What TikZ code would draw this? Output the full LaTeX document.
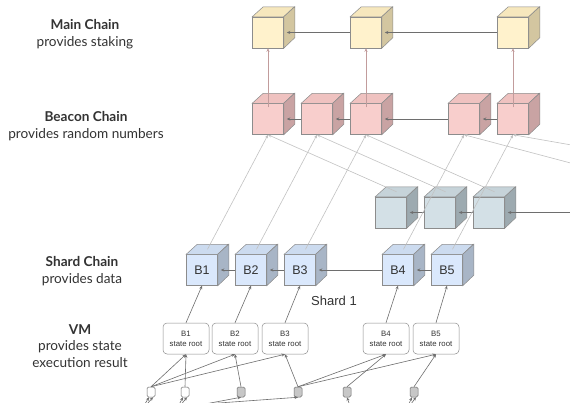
\documentclass[tikz,border=0pt]{standalone}
\usepackage{fontspec}
\setmainfont{Lato}
\newfontfamily\boxfont{Liberation Sans}
\usetikzlibrary{arrows.meta}

\definecolor{mainfront}{HTML}{FFF2CC}
\definecolor{maintop}{HTML}{F6E7BD}
\definecolor{mainside}{HTML}{D3C6A0}
\definecolor{beaconfront}{HTML}{F8CECC}
\definecolor{beacontop}{HTML}{EFC2C0}
\definecolor{beaconside}{HTML}{C9A3A3}
\definecolor{shardfront}{HTML}{DAE8FC}
\definecolor{shardtop}{HTML}{CCDBEF}
\definecolor{shardside}{HTML}{A8B5C6}
\definecolor{otherfront}{HTML}{D3E0E6}
\definecolor{othertop}{HTML}{C6D3D9}
\definecolor{otherside}{HTML}{9DAAB0}
\definecolor{edgegrey}{HTML}{8C8C8C}
\definecolor{linkgrey}{HTML}{6E6E6E}
\definecolor{crossgrey}{HTML}{C2C2C2}
\definecolor{upgrey}{HTML}{C29C9C}
\definecolor{textgrey}{HTML}{333333}

% cube: front face is the named node, top and side are drawn after it
\newcommand{\blockcube}[4]{%
  \node[cube, fill=#3front] (#1) at (#2) {#4};
  \draw[cubeedge, fill=#3top] (#1.north west) -- ++(11,-10) -- ++(31,0) -- (#1.north east) -- cycle;
  \draw[cubeedge, fill=#3side] (#1.north east) -- ++(11,-10) -- ++(0,31) -- (#1.south east) -- cycle;
}

\begin{document}
\begin{tikzpicture}[x=1pt, y=-1pt, line width=0.6pt,
    >={Stealth[length=3.5pt,width=3pt]},
    cubeedge/.style={draw=edgegrey, line width=0.5pt},
    cube/.style={cubeedge, minimum width=31pt, minimum height=31pt, inner sep=0pt,
      text=textgrey, font=\boxfont\fontsize{12.5}{14}\selectfont},
    vmbox/.style={draw=edgegrey, line width=0.5pt, rounded corners=4pt, fill=white,
      minimum width=46pt, minimum height=31pt, inner sep=0pt, align=center,
      text=textgrey, font=\boxfont\fontsize{7.8}{10}\selectfont},
    txbox/.style={draw=linkgrey, line width=0.5pt, rounded corners=1.5pt,
      minimum width=8pt, minimum height=10pt, inner sep=0pt},
    label/.style={align=center, text=textgrey, font=\fontsize{13.6}{16.5}\selectfont},
    link/.style={draw=linkgrey, ->},
    cross/.style={draw=crossgrey, ->},
    up/.style={draw=upgrey, ->}]

    \useasboundingbox (0,0) rectangle (570,402);
    \fill[white] (0,0) rectangle (570,402);
    \clip (0,0) rectangle (570,402);

    % Labels on the left
    \node[label] (lmain) at (85,34) {\textbf{Main Chain}\\provides staking};
    \node[label] (lbeacon) at (86,126) {\textbf{Beacon Chain}\\provides random numbers};
    \node[label] (lshard) at (82,271) {\textbf{Shard Chain}\\provides data};
    \node[label] (lvm) at (80,346) {\textbf{VM}\\provides state\\execution result};

    % Main chain
    \blockcube{m1}{268,32.5}{main}{}
    \blockcube{m2}{366,32.5}{main}{}
    \blockcube{m3}{513,32.5}{main}{}

    % Beacon chain
    \blockcube{b1}{268,119}{beacon}{}
    \blockcube{b2}{317,119}{beacon}{}
    \blockcube{b3}{366,119}{beacon}{}
    \blockcube{b4}{464,119}{beacon}{}
    \blockcube{b5}{513,119}{beacon}{}

    % Second shard (partly outside)
    \blockcube{o1}{391,212.5}{other}{}
    \blockcube{o2}{440,212.5}{other}{}
    \blockcube{o3}{489,212.5}{other}{}
    \coordinate (o4) at (590,212.5);
    \coordinate (o5) at (680,192);
    \coordinate (o6) at (840,192);

    % Shard 1
    \blockcube{s1}{202,270}{shard}{B1}
    \blockcube{s2}{251,270}{shard}{B2}
    \blockcube{s3}{300,270}{shard}{B3}
    \blockcube{s4}{398,270}{shard}{B4}
    \blockcube{s5}{447,270}{shard}{B5}
    \node[text=textgrey, font=\boxfont\fontsize{13}{15}\selectfont] (shardname) at (334,301) {Shard 1};

    % VM results
    \node[vmbox] (v1) at (186,338.5) {B1\\state root};
    \node[vmbox] (v2) at (235,338.5) {B2\\state root};
    \node[vmbox] (v3) at (285,338.5) {B3\\state root};
    \node[vmbox] (v4) at (386,338.5) {B4\\state root};
    \node[vmbox] (v5) at (436,338.5) {B5\\state root};

    % Transactions
    \node[txbox, fill=white] (t1) at (151,392) {};
    \node[txbox, fill=white] (t2) at (185,392) {};
    \node[txbox, fill=black!22] (t3) at (241,392) {};
    \node[txbox, fill=black!22] (t4) at (298,392) {};
    \node[txbox, fill=black!22] (t5) at (347,392) {};
    \node[txbox, fill=black!22] (t6) at (414,392) {};
    \coordinate (in1) at (140,412);
    \coordinate (in2) at (175,412);
    \coordinate (in3) at (205,404);
    \coordinate (in4) at (352,412);
    \coordinate (in5) at (405,412);

    % Chain links
    \draw[link] (m2.west) -- ([xshift=3]m1.east);
    \draw[link] (m3.west) -- ([xshift=3]m2.east);
    \draw[link] (b2.west) -- ([xshift=3]b1.east);
    \draw[link] (b3.west) -- ([xshift=3]b2.east);
    \draw[link] (b4.west) -- ([xshift=3]b3.east);
    \draw[link] (b5.west) -- ([xshift=3]b4.east);
    \draw[link] (o2.west) -- ([xshift=3]o1.east);
    \draw[link] (o3.west) -- ([xshift=3]o2.east);
    \draw[link] (o4) -- ([xshift=3]o3.east);
    \draw[link] (s2.west) -- ([xshift=3]s1.east);
    \draw[link] (s3.west) -- ([xshift=3]s2.east);
    \draw[link] (s4.west) -- ([xshift=3]s3.east);
    \draw[link] (s5.west) -- ([xshift=3]s4.east);

    % Beacon to main
    \draw[up] ([yshift=-4]b1.north) -- (m1.south);
    \draw[up] ([yshift=-4]b3.north) -- (m2.south);
    \draw[up] ([yshift=-4]b5.north) -- (m3.south);

    % Shards to beacon
    \draw[cross] ([shift={(5.5,-5)}]s1.north) -- (b1.south);
    \draw[cross] ([shift={(5.5,-5)}]s2.north) -- (b2.south);
    \draw[cross] ([shift={(5.5,-5)}]s3.north) -- (b3.south);
    \draw[cross] ([shift={(5.5,-5)}]s4.north) -- (b4.south);
    \draw[cross] ([shift={(5.5,-5)}]s5.north) -- (b5.south);
    \draw[cross] ([shift={(5.5,-5)}]o1.north) -- (b1.south);
    \draw[cross] ([shift={(5.5,-5)}]o2.north) -- (b2.south);
    \draw[cross] ([shift={(5.5,-5)}]o3.north) -- (b3.south);
    \draw[cross] (o5) -- (b4.south);
    \draw[cross] (o6) -- (b5.south);

    % VM to shard
    \draw[link] (v1.north) -- (s1.south);
    \draw[link] (v2.north) -- (s2.south);
    \draw[link] (v3.north) -- (s3.south);
    \draw[link] (v4.north) -- (s4.south);
    \draw[link] (v5.north) -- (s5.south);

    % Transactions to VM
    \draw[link] (t1.north) -- (v1.south);
    \draw[link] (t1.north) -- (v2.south);
    \draw[link] (t1.north) -- (v3.south);
    \draw[link] (t2.north) -- (v1.south);
    \draw[link] (t3.north) -- (v2.south);
    \draw[link] (t4.north) -- (v3.south);
    \draw[link] (t4.north) -- (v4.south);
    \draw[link] (t4.north) -- (v5.south);
    \draw[link] (t5.north) -- (v4.south);
    \draw[link] (t6.north) -- (v5.south);

    % Inputs from below (cut off)
    \draw[link] (in1) -- ([xshift=-2]t1.south);
    \draw[link] (in1) -- ([xshift=2]t1.south);
    \draw[link] (in2) -- ([xshift=-2]t2.south);
    \draw[link] (in2) -- ([xshift=2]t2.south);
    \draw[link] (in3) -- (t3.south);
    \draw[link] (in3) -- (t4.south);
    \draw[link] (in4) -- (t5.south);
    \draw[link] (in5) -- ([xshift=-2]t6.south);
    \draw[link] (in5) -- ([xshift=2]t6.south);
\end{tikzpicture}
\end{document}
